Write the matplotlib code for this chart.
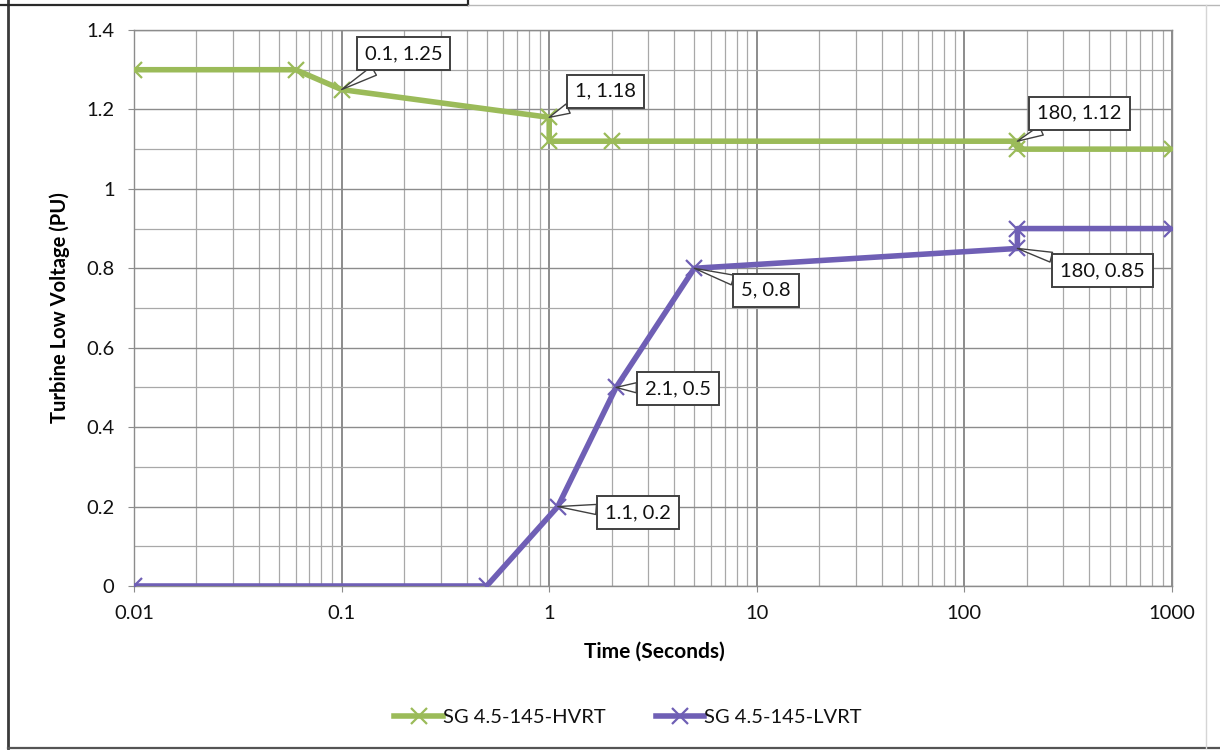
import matplotlib
matplotlib.use("Agg")
import matplotlib.pyplot as plt
from matplotlib.lines import Line2D
from matplotlib.ticker import LogLocator, FixedLocator, NullFormatter

plt.rcParams['font.family'] = ['Lato', 'DejaVu Sans']

# ---- data ----
hvrt_t = [0.01, 0.06, 0.1, 1, 1, 2, 180, 180, 1000]
hvrt_v = [1.3, 1.3, 1.25, 1.18, 1.12, 1.12, 1.12, 1.1, 1.1]
lvrt_t = [0.01, 0.5, 1.1, 2.1, 5, 180, 180, 1000]
lvrt_v = [0, 0, 0.2, 0.5, 0.8, 0.85, 0.9, 0.9]
hvrt_name = "SG 4.5-145-HVRT"
lvrt_name = "SG 4.5-145-LVRT"
x_ticks = [0.01, 0.1, 1, 10, 100, 1000]
x_tick_labels = ["0.01", "0.1", "1", "10", "100", "1000"]
y_ticks = [0, 0.2, 0.4, 0.6, 0.8, 1.0, 1.2, 1.4]
y_tick_labels = ["0", "0.2", "0.4", "0.6", "0.8", "1", "1.2", "1.4"]
# annotated points: (series, index, label)
callouts = [("h", 2, "0.1, 1.25"), ("h", 3, "1, 1.18"), ("h", 6, "180, 1.12"),
            ("l", 5, "180, 0.85"), ("l", 4, "5, 0.8"), ("l", 3, "2.1, 0.5"),
            ("l", 2, "1.1, 0.2")]
# text offsets in pixels (dx right, dy up)
callout_offsets = [(62, 36), (56, 26), (62, 28), (85, -22), (72, -22), (62, -1), (80, -6)]

GREEN = "#9BBB59"
PURPLE = "#6F5FB5"
FS = 14.5

W, H = 1220, 751
fig = plt.figure(figsize=(W / 100, H / 100), dpi=100)
fig.patch.set_facecolor("white")
ax = fig.add_axes([134 / W, 1 - 586 / H, (1172 - 134) / W, (586 - 30) / H])

ax.set_xscale("log")
ax.set_xlim(0.01, 1000)
ax.set_ylim(0, 1.4)

# grid
ax.xaxis.set_major_locator(FixedLocator(x_ticks))
ax.xaxis.set_minor_locator(LogLocator(base=10, subs=range(2, 10), numticks=20))
ax.xaxis.set_minor_formatter(NullFormatter())
ax.set_xticklabels(x_tick_labels)
ax.yaxis.set_major_locator(FixedLocator(y_ticks))
ax.yaxis.set_minor_locator(FixedLocator([0.1, 0.3, 0.5, 0.7, 0.9, 1.1, 1.3]))
ax.set_yticklabels(y_tick_labels)
ax.grid(True, which="major", axis="x", color="#6E6E6E", lw=1.1)
ax.grid(True, which="minor", axis="x", color="#A8A8A8", lw=0.9)
ax.grid(True, which="major", axis="y", color="#8C8C8C", lw=1.0)
ax.grid(True, which="minor", axis="y", color="#A8A8A8", lw=0.9)
ax.set_axisbelow(True)
for s in ax.spines.values():
    s.set_color("#8C8C8C")
    s.set_linewidth(1.0)
ax.tick_params(which="major", direction="out", length=4, color="#8C8C8C",
               labelsize=FS, labelcolor="#111111", pad=10)
ax.tick_params(which="minor", length=0)

ax.plot(hvrt_t, hvrt_v, color=GREEN, lw=4, marker="x", ms=11, mew=1.6,
        label=hvrt_name, zorder=3)
ax.plot(lvrt_t, lvrt_v, color=PURPLE, lw=4, marker="x", ms=11, mew=1.6,
        label=lvrt_name, zorder=3)

for (ser, i, lab), (dx, dy) in zip(callouts, callout_offsets):
    xs, ys = (hvrt_t, hvrt_v) if ser == "h" else (lvrt_t, lvrt_v)
    ax.annotate(lab, xy=(xs[i], ys[i]), xytext=(dx * 0.72, dy * 0.72),
                textcoords="offset points", ha="center", va="center",
                fontsize=FS, color="#111111",
                bbox=dict(boxstyle="square,pad=0.4", fc="white", ec="#404040", lw=1.4),
                arrowprops=dict(arrowstyle="wedge,tail_width=0.5,shrink_factor=0.5",
                                fc="white", ec="#404040", lw=1.0,
                                shrinkA=0, shrinkB=0),
                zorder=5)

ax.set_xlabel("Time (Seconds)", fontsize=15, fontweight="bold")
ax.set_ylabel("Turbine Low Voltage (PU)", fontsize=14.5, fontweight="bold")
ax.xaxis.set_label_coords((654 - 134) / (1172 - 134), -(642 - 586) / (586 - 30))
ax.yaxis.set_label_coords(-(134 - 70) / (1172 - 134), 0.5)

leg = fig.legend(loc="center", bbox_to_anchor=(628 / W, 1 - 717 / H), ncol=2,
                 frameon=False, fontsize=FS, handlelength=2.4, columnspacing=2.5,
                 handletextpad=0.0)
for t in leg.get_texts():
    t.set_color("#111111")

# outer frame lines (figure pixels)
def fline(x0, y0, x1, y1, color, lw):
    fig.add_artist(Line2D([x0 / W, x1 / W], [1 - y0 / H, 1 - y1 / H],
                          transform=fig.transFigure, color=color, lw=lw))

fline(8, 0, 8, 748, "#3A3A3A", 2.0)
fline(8, 748, 1220, 748, "#555555", 1.6)
fline(0, 5, 468, 5, "#2A2A2A", 1.6)
fline(468, 0, 468, 5, "#2A2A2A", 1.6)
fline(468, 5, 1220, 5, "#B8B8B8", 1.0)
fline(1206, 5, 1206, 748, "#D5D5D5", 1.0)

fig.savefig("out.png", dpi=100)
